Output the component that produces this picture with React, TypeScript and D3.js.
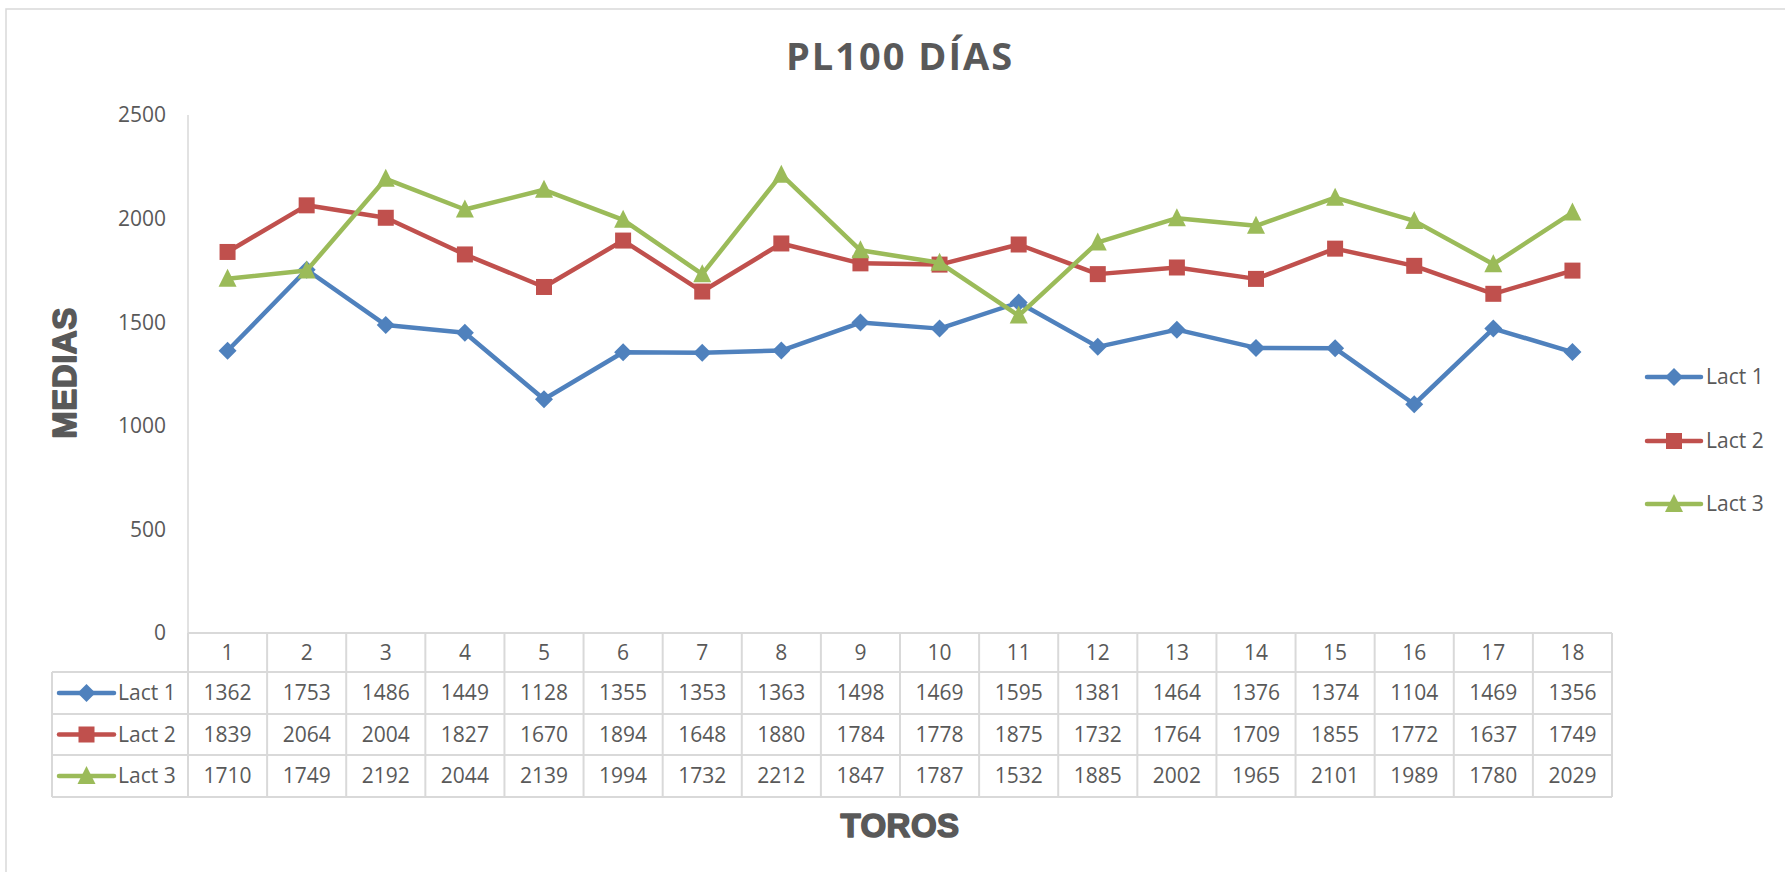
import React from "react";
import * as d3 from "d3";

const categories = ["1","2","3","4","5","6","7","8","9","10","11","12","13","14","15","16","17","18"];
const lact1 = [1362,1753,1486,1449,1128,1355,1353,1363,1498,1469,1595,1381,1464,1376,1374,1104,1469,1356];
const lact2 = [1839,2064,2004,1827,1670,1894,1648,1880,1784,1778,1875,1732,1764,1709,1855,1772,1637,1749];
const lact3 = [1710,1749,2192,2044,2139,1994,1732,2212,1847,1787,1532,1885,2002,1965,2101,1989,1780,2029];
const seriesNames = ["Lact 1","Lact 2","Lact 3"];
const seriesColors = ["#4F81BD","#C0504D","#9BBB59"];
const yTicks = [0,500,1000,1500,2000,2500];

const W = 1785, H = 872;
const FONT = "'Open Sans', 'Noto Sans', sans-serif";
const HEAVY = "'Liberation Sans', Arial, sans-serif";
const GRAY = "#595959";
const GRID = "#D9D9D9";

function Marker({ kind, x, y, color }: { kind: number; x: number; y: number; color: string }) {
  if (kind === 0) {
    const r = 9;
    return <path d={`M${x},${y - r}L${x + r},${y}L${x},${y + r}L${x - r},${y}Z`} fill={color} />;
  }
  if (kind === 1) {
    const s = 16;
    return <rect x={x - s / 2} y={y - s / 2} width={s} height={s} fill={color} />;
  }
  const s = 9;
  return <path d={`M${x},${y - s - 1}L${x + s},${y + s - 1}L${x - s},${y + s - 1}Z`} fill={color} />;
}

export default function App() {
  const plotL = 188, plotR = 1612, plotT = 115, plotB = 633;
  const x = d3.scaleBand<string>().domain(categories).range([plotL, plotR]);
  const y = d3.scaleLinear().domain([0, 2500]).range([plotB, plotT]);
  const series = [lact1, lact2, lact3];
  const line = d3.line<number>()
    .x((_, i) => (x(categories[i]) as number) + x.bandwidth() / 2)
    .y((d) => y(d));

  const rowTops = [633, 672, 714, 755, 797];
  const tableL = 52;

  return (
    <svg width={W} height={H} style={{ position: "absolute", left: 0, top: 0, background: "#fff" }} fontFamily={FONT}>
      <rect x={6} y={9} width={2000} height={2000} fill="#fff" stroke={GRID} strokeWidth={1.5} />
      <text x={900} y={70} textAnchor="middle" fontSize={38} fontWeight={700} fill={GRAY} letterSpacing={2}>PL100 DÍAS</text>

      {/* y axis */}
      <line x1={plotL} x2={plotL} y1={plotT} y2={plotB} stroke={GRID} strokeWidth={1.5} />
      {yTicks.map((t) => (
        <text key={t} x={166} y={y(t)} dy="0.35em" textAnchor="end" fontSize={21} fill={GRAY}>{t}</text>
      ))}

      {/* lines */}
      {series.map((s, si) => (
        <g key={si}>
          <path d={line(s) as string} fill="none" stroke={seriesColors[si]} strokeWidth={4.5} strokeLinejoin="round" strokeLinecap="round" />
          {s.map((v, i) => (
            <Marker key={i} kind={si} x={(x(categories[i]) as number) + x.bandwidth() / 2} y={y(v)} color={seriesColors[si]} />
          ))}
        </g>
      ))}

      {/* data table */}
      <g stroke={GRID} strokeWidth={2}>
        <line x1={plotL} x2={plotR} y1={rowTops[0]} y2={rowTops[0]} />
        {rowTops.slice(1).map((r) => (
          <line key={r} x1={tableL} x2={plotR} y1={r} y2={r} />
        ))}
        <line x1={tableL} x2={tableL} y1={rowTops[1]} y2={rowTops[4]} />
        {categories.map((c) => (
          <line key={c} x1={x(c) as number} x2={x(c) as number} y1={rowTops[0]} y2={rowTops[4]} />
        ))}
        <line x1={plotR} x2={plotR} y1={rowTops[0]} y2={rowTops[4]} />
      </g>
      {categories.map((c) => (
        <text key={c} x={(x(c) as number) + x.bandwidth() / 2} y={(rowTops[0] + rowTops[1]) / 2} dy="0.35em" textAnchor="middle" fontSize={21} fill={GRAY}>{c}</text>
      ))}
      {series.map((s, si) => {
        const cy = (rowTops[si + 1] + rowTops[si + 2]) / 2;
        return (
          <g key={si}>
            <line x1={59} x2={114} y1={cy} y2={cy} stroke={seriesColors[si]} strokeWidth={4.5} strokeLinecap="round" />
            <Marker kind={si} x={86.5} y={cy} color={seriesColors[si]} />
            <text x={118} y={cy} dy="0.35em" fontSize={21} fill={GRAY}>{seriesNames[si]}</text>
            {s.map((v, i) => (
              <text key={i} x={(x(categories[i]) as number) + x.bandwidth() / 2} y={cy} dy="0.35em" textAnchor="middle" fontSize={21} fill={GRAY}>{v}</text>
            ))}
          </g>
        );
      })}

      {/* legend */}
      {seriesNames.map((n, si) => {
        const ly = [377, 441, 504][si];
        return (
          <g key={n}>
            <line x1={1647} x2={1701} y1={ly} y2={ly} stroke={seriesColors[si]} strokeWidth={4.5} strokeLinecap="round" />
            <Marker kind={si} x={1674} y={ly} color={seriesColors[si]} />
            <text x={1706} y={ly} dy="0.35em" fontSize={21} fill={GRAY}>{n}</text>
          </g>
        );
      })}

      {/* axis titles */}
      <text x={900} y={837} textAnchor="middle" fontSize={33} fontWeight={700} fill={GRAY} stroke={GRAY} strokeWidth={1.6} strokeLinejoin="round" fontFamily={HEAVY} letterSpacing={0.5}>TOROS</text>
      <text transform="translate(76,373) rotate(-90)" textAnchor="middle" fontSize={33} fontWeight={700} fill={GRAY} stroke={GRAY} strokeWidth={1.6} strokeLinejoin="round" fontFamily={HEAVY} letterSpacing={0.5}>MEDIAS</text>
    </svg>
  );
}
